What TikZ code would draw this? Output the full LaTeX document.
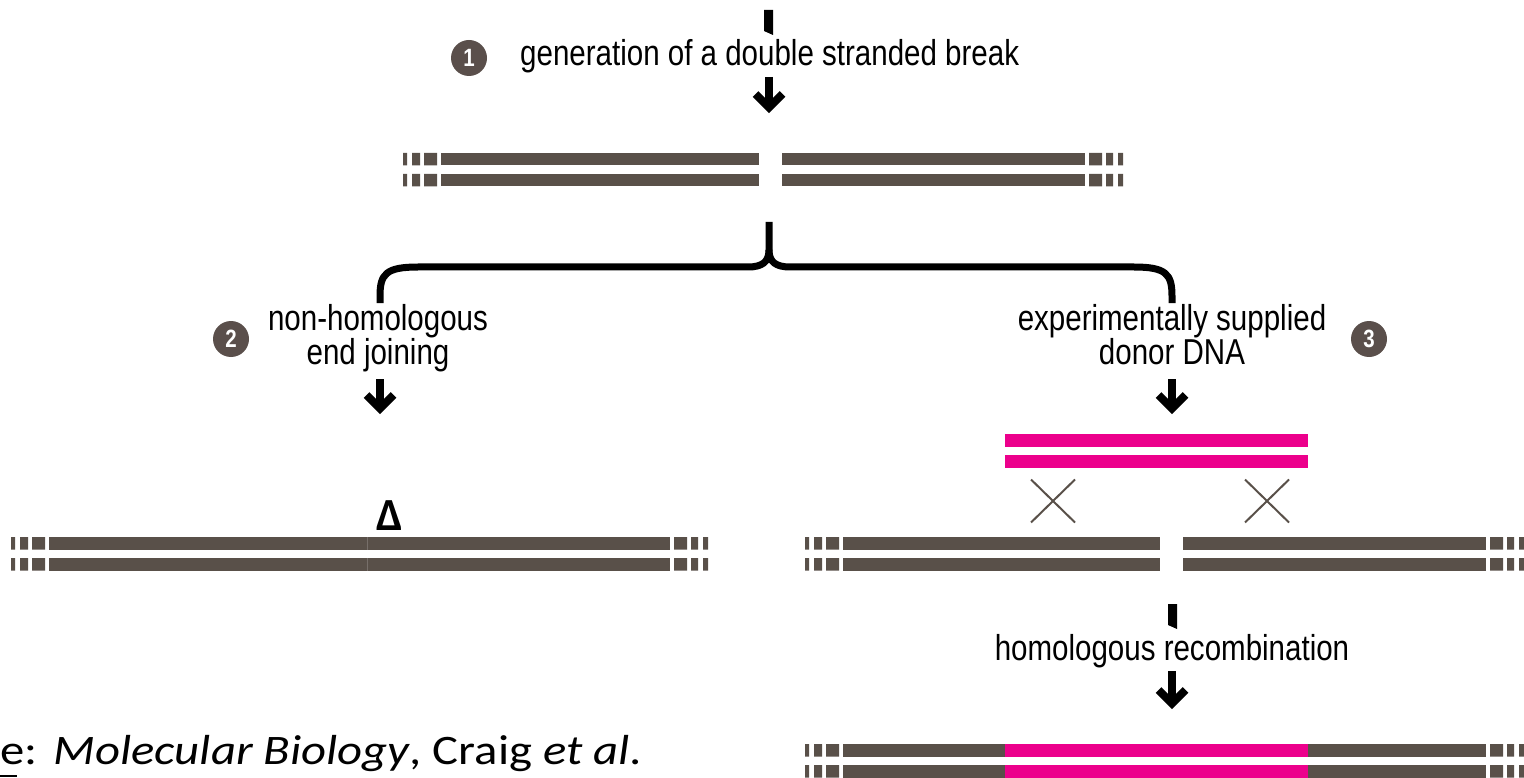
\documentclass[tikz,border=0pt]{standalone}
\usepackage{fontspec}
\usetikzlibrary{calc}
\newfontfamily\labfont[FakeStretch=0.82]{Liberation Sans}
\newfontfamily\srcfont[FakeStretch=1.16]{Carlito}
\newfontfamily\deltafont{Carlito}
\definecolor{dna}{HTML}{595049}
\definecolor{donor}{HTML}{EC008C}
\definecolor{badgefill}{HTML}{5A4F4B}

% outer ends of a duplex: three short blocks on each strand
\newcommand\dnacapL[2]{\foreach \r in {0,21}{\fill[dna] (#1,#2+\r) rectangle ++(4,12.5) (#1+9,#2+\r) rectangle ++(8,12.5) (#1+21,#2+\r) rectangle ++(13,12.5);}}
\newcommand\dnacapR[2]{\foreach \r in {0,21}{\fill[dna] (#1+4,#2+\r) rectangle ++(13,12.5) (#1+21,#2+\r) rectangle ++(7,12.5) (#1+33,#2+\r) rectangle ++(5,12.5);}}
% solid stretch of both strands: colour, x from, x to, top y
\newcommand\dnabar[4]{\foreach \r in {0,21}{\fill[#1] (#2,#4+\r) rectangle (#3,#4+\r+12.5);}}

\tikzset{
  lab/.style={font=\labfont\fontsize{36}{34}\selectfont, inner sep=0pt, align=center},
  badge/.style={circle, fill=badgefill, text=white, inner sep=0pt, minimum size=36pt,
    font=\labfont\bfseries\fontsize{25}{25}\selectfont},
  shaft/.style={line width=8pt},
  headline/.style={line width=8pt, line join=miter},
  bracket/.style={line width=7pt},
  cross/.style={dna, line width=2pt},
  chevron/.pic={\draw[headline] (-13.5,-19) -- (0,-5.5) -- (13.5,-19);}
}

\begin{document}
\begin{tikzpicture}[x=1pt,y=-1pt]
\useasboundingbox (0,0) rectangle (1524,778);

% ---------- step 1 ----------
\fill (764,10) -- (773,10) -- (773,35) -- (764,31) -- cycle;
\node[badge] (n1) at (469,58) {1};
\node[lab, anchor=base west] (t1) at (520,66) {generation of a double stranded break};
\coordinate (a1s) at (769,77);
\coordinate (a1e) at (769,113);
\draw[shaft] (a1s) -- ([yshift=8pt]a1e);
\pic at (a1e) {chevron};

% broken duplex
\dnacapL{403}{153}
\dnabar{dna}{441}{759}{153}
\dnabar{dna}{782}{1085}{153}
\dnacapR{1085}{153}

% ---------- branching bracket ----------
\coordinate (bt) at (769,222);
\coordinate (bl) at (380,303);
\coordinate (br) at (1172,303);
\draw[bracket] (bl) -- (380,296) .. controls (380,274) and (386,267) .. (418,267)
  -- (748,267) .. controls (762,267) and (769,262) .. (769,250) -- (bt);
\draw[bracket] (br) -- (1172,296) .. controls (1172,274) and (1166,267) .. (1134,267)
  -- (790,267) .. controls (776,267) and (769,262) .. (769,250);

% ---------- step 2 ----------
\node[badge] (n2) at (231,339) {2};
\node[lab, anchor=base] (t2) at (378,364) {non-homologous\\end joining};
\coordinate (a2s) at (380,379);
\coordinate (a2e) at (380,414);
\draw[shaft] (a2s) -- ([yshift=8pt]a2e);
\pic at (a2e) {chevron};

\node[font=\deltafont\bfseries\fontsize{46}{46}\selectfont, inner sep=0pt, anchor=base] (delta) at (390,530) {Δ};
\dnacapL{11}{537}
\dnabar{dna}{49}{670}{537}
\dnacapR{670}{537}
\foreach \r in {0,21}{\draw[white!18!dna, line width=0.8pt] (367,537+\r) -- (367,549.5+\r);}

% ---------- step 3 ----------
\node[badge] (n3) at (1369,339) {3};
\node[lab, anchor=base] (t3) at (1172,364) {experimentally supplied\\donor DNA};
\coordinate (a3s) at (1172,379);
\coordinate (a3e) at (1172,414);
\draw[shaft] (a3s) -- ([yshift=8pt]a3e);
\pic at (a3e) {chevron};

\dnabar{donor}{1005}{1308}{434}
\foreach \c in {1053,1267}{
  \draw[cross] (\c-22,479.5) -- (\c+22,522.5);
  \draw[cross] (\c+22,479.5) -- (\c-22,522.5);
}
\dnacapL{805}{537}
\dnabar{dna}{843}{1159.5}{537}
\dnabar{dna}{1183}{1486}{537}
\dnacapR{1486}{537}

% ---------- recombination ----------
\fill (1168,604) -- (1177,604) -- (1177,629) -- (1168,625) -- cycle;
\node[lab, anchor=base] (t4) at (1172,660) {homologous recombination};
\coordinate (a4s) at (1172,671);
\coordinate (a4e) at (1172,709);
\draw[shaft] (a4s) -- ([yshift=8pt]a4e);
\pic at (a4e) {chevron};

\dnacapL{805}{744}
\dnabar{dna}{843}{1005}{744}
\dnabar{donor}{1005}{1308}{744}
\dnabar{dna}{1308}{1486}{744}
\dnacapR{1486}{744}

% ---------- reference line ----------
\node[font=\srcfont\fontsize{42}{42}\selectfont, inner sep=0pt, anchor=base west] (src) at (0,764)
  {e:\hspace{16pt}\textit{Molecular Biology}, Craig \textit{et al}.};
\fill (0,774.5) rectangle (17,777);
\end{tikzpicture}
\end{document}
